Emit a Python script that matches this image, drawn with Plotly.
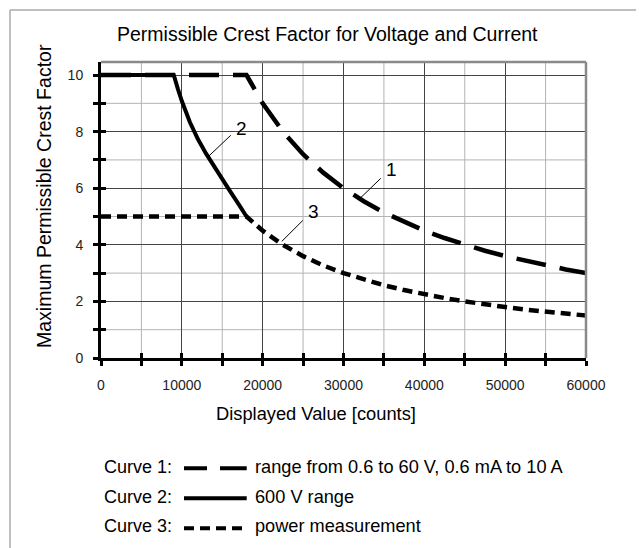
import plotly.graph_objects as go

# ---------------- data ----------------
curve1_x = [0, 18000, 20000, 22500, 25000, 27500, 30000, 32500, 35000, 37500,
            40000, 42500, 45000, 47500, 50000, 52500, 55000, 57500, 60000]
curve1_y = [10, 10, 9.0, 8.0, 7.2, 6.55, 6.0, 5.54, 5.14, 4.8,
            4.5, 4.24, 4.0, 3.79, 3.6, 3.43, 3.27, 3.13, 3.0]

curve2_x = [0, 9000, 9500, 10000, 11000, 12000, 13000, 14000, 15000, 16000, 17000, 18000]
curve2_y = [10, 10, 9.52, 9.08, 8.33, 7.73, 7.22, 6.76, 6.31, 5.88, 5.45, 5.0]

curve3_x = [0, 18000, 20000, 22500, 25000, 27500, 30000, 32500, 35000, 37500,
            40000, 42500, 45000, 47500, 50000, 52500, 55000, 57500, 60000]
curve3_y = [5, 5, 4.5, 4.0, 3.6, 3.27, 3.0, 2.77, 2.57, 2.4,
            2.25, 2.12, 2.0, 1.89, 1.8, 1.71, 1.64, 1.57, 1.5]

x_ticks = [0, 10000, 20000, 30000, 40000, 50000, 60000]
x_tick_labels = ["0", "10000", "20000", "30000", "40000", "50000", "60000"]
x_minor = [5000, 15000, 25000, 35000, 45000, 55000]
x_all_ticks = [0, 5000, 10000, 15000, 20000, 25000, 30000, 35000, 40000, 45000, 50000, 55000, 60000]
y_ticks = [0, 2, 4, 6, 8, 10]
y_tick_labels = ["0", "2", "4", "6", "8", "10"]
y_minor = [1, 3, 5, 7, 9]
y_all_ticks = [0, 1, 2, 3, 4, 5, 6, 7, 8, 9, 10]

title_text = "Permissible Crest Factor for Voltage and Current"
x_title = "Displayed Value [counts]"
y_title = "Maximum Permissible Crest Factor"
legend_labels = ["Curve 1:", "Curve 2:", "Curve 3:"]
legend_texts = ["range from 0.6 to 60 V, 0.6 mA to 10 A", "600 V range", "power measurement"]
curve_labels = ["1", "2", "3"]

# ---------------- layout geometry ----------------
W, H = 639, 548
L, R, T, B = 101, 53, 62, 190
PW, PH = W - L - R, H - T - B
YMAX = 10.46


def px(xp):
    return (xp - L) / PW


def py(yp):
    return 1 - (yp - T) / PH


FONT = "Liberation Sans, Arial, sans-serif"
MINOR_GRID = "#b4b4b4"

fig = go.Figure()

fig.add_trace(go.Scatter(x=curve1_x, y=curve1_y, mode="lines",
                         line=dict(color="black", width=4.5, dash="30px,14px"),
                         showlegend=False, hoverinfo="skip"))
fig.add_trace(go.Scatter(x=curve3_x, y=curve3_y, mode="lines",
                         line=dict(color="black", width=4.5, dash="10px,6px"),
                         showlegend=False, hoverinfo="skip"))
fig.add_trace(go.Scatter(x=curve2_x, y=curve2_y, mode="lines",
                         line=dict(color="black", width=4),
                         showlegend=False, hoverinfo="skip"))
# empty trace so that the overlay axes (inside tick marks) are drawn
fig.add_trace(go.Scatter(x=[], y=[], xaxis="x2", yaxis="y2", showlegend=False))

axis_common = dict(showline=True, linecolor="black", linewidth=3,
                   ticks="outside", ticklen=5, tickwidth=2.5, tickcolor="black",
                   showgrid=True, gridcolor="#444", gridwidth=1, zeroline=False,
                   tickfont=dict(family=FONT, size=14, color="#222"))

fig.update_layout(
    width=W, height=H,
    margin=dict(l=L, r=R, t=T, b=B, pad=0),
    paper_bgcolor="white", plot_bgcolor="white",
    showlegend=False,
    xaxis=dict(range=[0, 60000], tickmode="array", tickvals=x_ticks, ticktext=x_tick_labels,
               ticklabelstandoff=7,
               minor=dict(tickmode="array", tickvals=x_minor, ticks="outside", ticklen=5,
                          tickwidth=2.5, tickcolor="black", showgrid=False),
               **axis_common),
    yaxis=dict(range=[0, YMAX], tickmode="array", tickvals=y_ticks, ticktext=y_tick_labels,
               ticklabelstandoff=7,
               minor=dict(tickmode="array", tickvals=y_minor, ticks="outside", ticklen=5,
                          tickwidth=2.5, tickcolor="black", showgrid=False),
               **axis_common),
    xaxis2=dict(range=[0, 60000], overlaying="x", anchor="y", side="bottom",
                tickmode="array", tickvals=x_all_ticks, ticks="inside", ticklen=5,
                tickwidth=2.5, tickcolor="black", showticklabels=False, showgrid=False,
                zeroline=False, showline=False),
    yaxis2=dict(range=[0, YMAX], overlaying="y", anchor="x", side="left",
                tickmode="array", tickvals=y_all_ticks, ticks="inside", ticklen=5,
                tickwidth=2.5, tickcolor="black", showticklabels=False, showgrid=False,
                zeroline=False, showline=False),
)

shapes = []
# light minor grid (between gridlines and traces; never overlaps the major lines)
for xv in x_minor:
    shapes.append(dict(type="line", xref="x", yref="paper", x0=xv, x1=xv, y0=0, y1=1,
                       layer="between", line=dict(color=MINOR_GRID, width=1)))
for yv in y_minor:
    shapes.append(dict(type="line", xref="paper", yref="y", x0=0, x1=1, y0=yv, y1=yv,
                       layer="between", line=dict(color=MINOR_GRID, width=1)))
# gray frame on top and right of plot area
shapes.append(dict(type="line", xref="paper", yref="paper", x0=0, x1=1, y0=1, y1=1,
                   line=dict(color="#8a8a8a", width=2.5)))
shapes.append(dict(type="line", xref="paper", yref="paper", x0=1, x1=1, y0=0, y1=1,
                   line=dict(color="#8a8a8a", width=2.5)))
# outer border (top + left)
shapes.append(dict(type="line", xref="paper", yref="paper", x0=px(10), x1=px(636),
                   y0=py(10), y1=py(10), line=dict(color="#aaaaaa", width=1.5)))
shapes.append(dict(type="line", xref="paper", yref="paper", x0=px(10), x1=px(10),
                   y0=py(10), y1=py(548), line=dict(color="#aaaaaa", width=1.5)))

# leader lines for the curve numbers (data coordinates)
leaders = [((31968, 5.62), (34616, 6.35)),
           ((13280, 7.12), (16052, 7.87)),
           ((22364, 4.12), (24963, 4.86))]
for (x0, y0), (x1, y1) in leaders:
    shapes.append(dict(type="line", xref="x", yref="y", x0=x0, y0=y0, x1=x1, y1=y1,
                       line=dict(color="black", width=1)))

# legend sample lines
leg_rows = [468.3, 498.3, 528.3]
leg_dash = ["23px,13px,27px,10px", "solid", "10px,6px"]
for yy, dsh in zip(leg_rows, leg_dash):
    shapes.append(dict(type="line", xref="paper", yref="paper", x0=px(184), x1=px(246.7),
                       y0=py(yy), y1=py(yy), line=dict(color="black", width=4, dash=dsh)))

fig.update_layout(shapes=shapes)

ann = []
ann.append(dict(text=title_text, x=px(327.6), y=py(33.5), xref="paper", yref="paper",
                xanchor="center", yanchor="middle", showarrow=False,
                font=dict(family=FONT, size=19.5, color="black")))
ann.append(dict(text=y_title, x=px(44), y=py(196), xref="paper", yref="paper",
                xanchor="center", yanchor="middle", showarrow=False, textangle=-90,
                font=dict(family=FONT, size=19.5, color="black")))
ann.append(dict(text=x_title, x=px(315.8), y=py(413), xref="paper", yref="paper",
                xanchor="center", yanchor="middle", showarrow=False,
                font=dict(family=FONT, size=18.3, color="black")))

label_pos = [(35978, 6.65), (17413, 8.12), (26275, 5.17)]
for lab, (lx, ly) in zip(curve_labels, label_pos):
    ann.append(dict(text=lab, x=lx, y=ly, xref="x", yref="y", xanchor="center",
                    yanchor="middle", showarrow=False,
                    font=dict(family=FONT, size=19, color="black")))

leg_text_rows = [467, 497, 526]
for lab, txt, yy in zip(legend_labels, legend_texts, leg_text_rows):
    ann.append(dict(text=lab, x=px(101.7), y=py(yy), xref="paper", yref="paper",
                    xanchor="left", yanchor="middle", showarrow=False,
                    font=dict(family=FONT, size=18, color="black")))
    ann.append(dict(text=txt, x=px(253.3), y=py(yy), xref="paper", yref="paper",
                    xanchor="left", yanchor="middle", showarrow=False,
                    font=dict(family=FONT, size=18.2, color="black")))

fig.update_layout(annotations=ann)

fig.write_html("out.html", config={"displayModeBar": False},
               post_script="document.body.style.margin='0px';")
